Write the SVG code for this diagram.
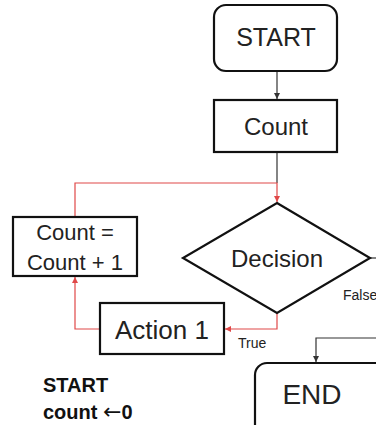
<svg xmlns="http://www.w3.org/2000/svg" width="376" height="425" viewBox="0 0 376 425">
<style>
.box{fill:#fff;stroke:#111;stroke-width:2.2}
.t{font-family:"Liberation Sans",Arial,sans-serif;fill:#222;text-anchor:middle}
.b{font-family:"Liberation Sans",Arial,sans-serif;fill:#111;font-weight:bold}
.k{fill:none;stroke:#333;stroke-width:1.2}
.r{fill:none;stroke:#e04848;stroke-width:1.2}
</style>
<defs>
<marker id="ak" markerWidth="8" markerHeight="8" refX="6" refY="3" orient="auto" markerUnits="userSpaceOnUse"><path d="M0,0 L6,3 L0,6 Z" fill="#333"/></marker>
<marker id="ar" markerWidth="8" markerHeight="8" refX="6" refY="3" orient="auto" markerUnits="userSpaceOnUse"><path d="M0,0 L6,3 L0,6 Z" fill="#e04848"/></marker>
</defs>
<rect width="376" height="425" fill="#fff"/>
<g id="connectors">
<path class="k" d="M277,71 V99" marker-end="url(#ak)"/>
<path class="k" d="M277,152 V183"/>
<path class="r" d="M75,217 V183 H277 V202" marker-end="url(#ar)"/>
<path class="r" d="M277,313 V329 H225" marker-end="url(#ar)"/>
<path class="r" d="M100,329 H75 V277" marker-end="url(#ar)"/>
<path class="k" d="M370,258 H376"/>
<path class="k" d="M376,338 H316 V362" marker-end="url(#ak)"/>
</g>
<g id="start"><rect class="box" x="214" y="5" width="123" height="66" rx="12"/><text class="t" x="276" y="46" font-size="25">START</text></g>
<g id="count"><rect class="box" x="214" y="100" width="123" height="52"/><text class="t" x="276" y="135" font-size="24">Count</text></g>
<g id="increment"><rect class="box" x="13" y="217" width="124" height="59"/><text class="t" x="75" y="240" font-size="22">Count =</text><text class="t" x="75" y="270" font-size="22">Count + 1</text></g>
<g id="decision"><polygon class="box" points="277,203 370,258 277,313 183,258"/><text class="t" x="277" y="267" font-size="24">Decision</text></g>
<g id="action1"><rect class="box" x="100" y="303" width="124" height="51"/><text class="t" x="162" y="339" font-size="26">Action 1</text></g>
<g id="end"><rect class="box" x="255" y="363" width="140" height="80" rx="12"/><text class="t" x="312" y="404" font-size="28">END</text></g>
<g id="labels">
<text class="t" x="343" y="300" font-size="14" style="text-anchor:start">False</text>
<text class="t" x="238" y="348" font-size="14" style="text-anchor:start">True</text>
<text class="b" x="43" y="392" font-size="20">START</text>
<text class="b" x="43" y="419" font-size="20">count <tspan font-family="'DejaVu Sans',sans-serif" font-weight="normal" font-size="22">←</tspan>0</text>
</g>
</svg>
